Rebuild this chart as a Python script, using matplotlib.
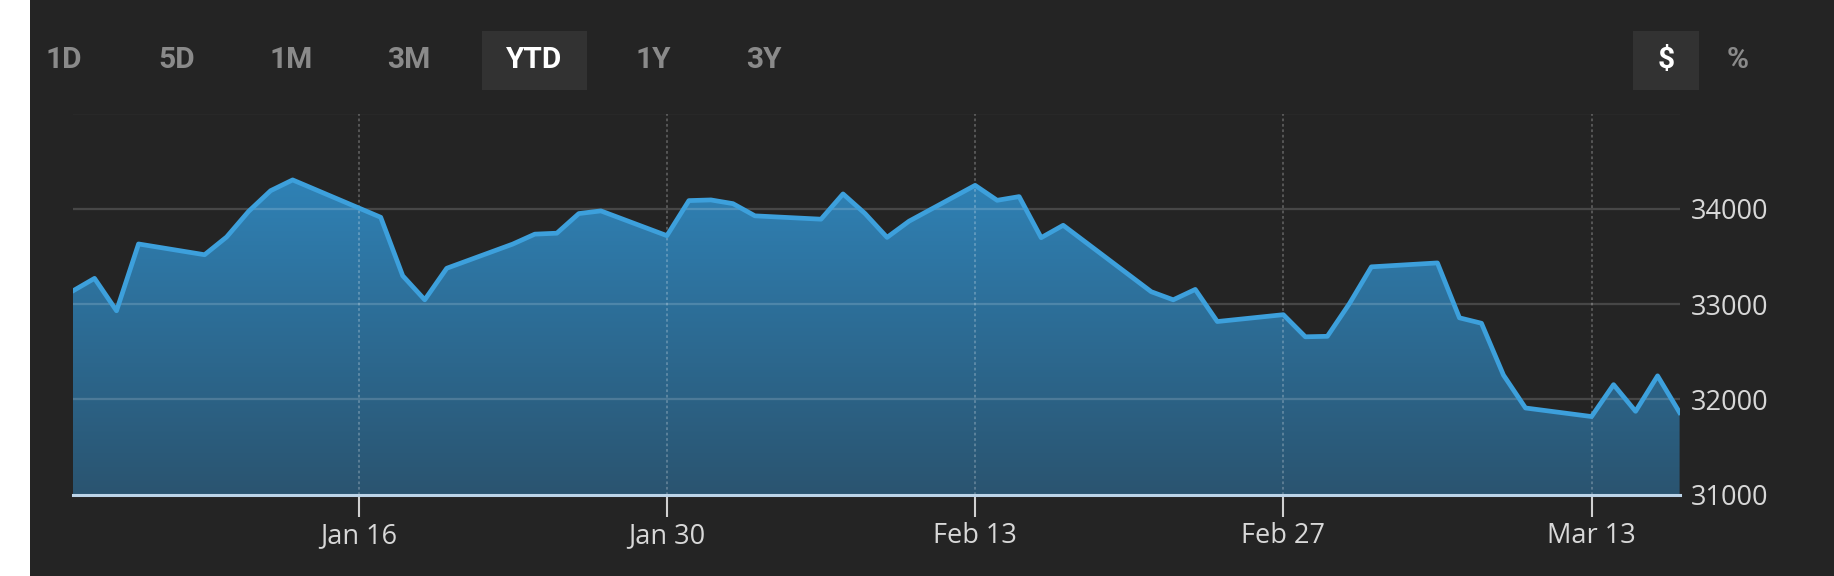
import numpy as np
import matplotlib.pyplot as plt
import matplotlib.dates as mdates
from matplotlib.colors import LinearSegmentedColormap
from matplotlib.patches import Rectangle, Polygon

# YTD closing values
dates = ["2023-01-03", "2023-01-04", "2023-01-05", "2023-01-06", "2023-01-09",
         "2023-01-10", "2023-01-11", "2023-01-12", "2023-01-13", "2023-01-17",
         "2023-01-18", "2023-01-19", "2023-01-20", "2023-01-23", "2023-01-24",
         "2023-01-25", "2023-01-26", "2023-01-27", "2023-01-30", "2023-01-31",
         "2023-02-01", "2023-02-02", "2023-02-03", "2023-02-06", "2023-02-07",
         "2023-02-08", "2023-02-09", "2023-02-10", "2023-02-13", "2023-02-14",
         "2023-02-15", "2023-02-16", "2023-02-17", "2023-02-21", "2023-02-22",
         "2023-02-23", "2023-02-24", "2023-02-27", "2023-02-28", "2023-03-01",
         "2023-03-02", "2023-03-03", "2023-03-06", "2023-03-07", "2023-03-08",
         "2023-03-09", "2023-03-10", "2023-03-13", "2023-03-14", "2023-03-15",
         "2023-03-16", "2023-03-17"]
values = [33136, 33270, 32930, 33631, 33518, 33704, 33973, 34190, 34303, 33911,
          33297, 33045, 33376, 33630, 33734, 33744, 33950, 33978, 33718, 34086,
          34093, 34054, 33926, 33891, 34156, 33950, 33700, 33870, 34246, 34089,
          34128, 33697, 33827, 33130, 33045, 33154, 32817, 32889, 32657, 32662,
          33004, 33391, 33432, 32856, 32799, 32255, 31910, 31820, 32155, 31875,
          32247, 31862]

x_tick_dates = ["2023-01-16", "2023-01-30", "2023-02-13", "2023-02-27", "2023-03-13"]
x_tick_labels = ["Jan 16", "Jan 30", "Feb 13", "Feb 27", "Mar 13"]
y_ticks = [31000, 32000, 33000, 34000]
y_top = 35000

ranges = ["1D", "5D", "1M", "3M", "YTD", "1Y", "3Y"]
active_range = "YTD"
units = ["$", "%"]
active_unit = "$"

BG = "#242424"
W, H = 1834, 576

fig = plt.figure(figsize=(W / 100, H / 100), dpi=100, facecolor=BG)
# white strip on the left edge
fig.add_artist(Rectangle((0, 0), 30 / W, 1, transform=fig.transFigure,
                         facecolor="white", edgecolor="none"))

ax = fig.add_axes([72.5 / W, 1 - 494.7 / H, (1679.6 - 72.5) / W, (494.7 - 113.5) / H])
ax.set_facecolor(BG)

x = mdates.date2num(np.array(dates, dtype="datetime64[D]"))
xt = mdates.date2num(np.array(x_tick_dates, dtype="datetime64[D]"))
y = np.array(values)

# gradient area fill
cmap = LinearSegmentedColormap.from_list("area", ["#2a5470", "#308bc4"])
grad = np.linspace(0, 1, 256).reshape(-1, 1)
im = ax.imshow(grad, cmap=cmap, origin="lower", aspect="auto",
               extent=[x[0], x[-1], y_ticks[0], y_top], zorder=1)
verts = np.column_stack([np.r_[x[0], x, x[-1]], np.r_[y_ticks[0], y, y_ticks[0]]])
area = Polygon(verts, closed=True, facecolor="none", edgecolor="none")
ax.add_patch(area)
im.set_clip_path(area)

# grid
for v in y_ticks[1:] + [y_top]:
    ax.axhline(v, color="white", alpha=0.16, lw=1.6, zorder=2)
for d in xt:
    ax.axvline(d, color="white", alpha=0.25, lw=1.3, ls=(0, (1.5, 1.5)), zorder=2)

ax.plot(x, y, color="#3da0dc", lw=3.4, zorder=3)

ax.set_xlim(x[0], x[-1])
ax.set_ylim(y_ticks[0], y_top)

for s in ["top", "left", "right"]:
    ax.spines[s].set_visible(False)
ax.spines["bottom"].set_color("#bcd4e8")
ax.spines["bottom"].set_linewidth(2.2)
ax.spines["bottom"].set_zorder(4)

ax.set_xticks(xt)
ax.set_xticklabels(x_tick_labels)
ax.tick_params(axis="x", length=16, width=1.5, color="#d0d0d0", pad=4,
               labelsize=19.5, labelcolor="#d8d8d8")
ax.yaxis.tick_right()
ax.set_yticks(y_ticks)
ax.set_yticklabels([str(v) for v in y_ticks])
ax.tick_params(axis="y", length=0, pad=8, labelsize=19.5, labelcolor="#d8d8d8")
for lab in ax.get_xticklabels() + ax.get_yticklabels():
    lab.set_family("Open Sans")

# range / unit selector buttons
range_x = [64, 177, 291, 409, 534, 653, 764]
for lab, bx in zip(ranges, range_x):
    on = lab == active_range
    if on:
        fig.add_artist(Rectangle((482 / W, 1 - 90 / H), 105 / W, 59 / H,
                                 transform=fig.transFigure, facecolor="#323232",
                                 edgecolor="none"))
    fig.text(bx / W, 1 - 60 / H, lab, ha="center", va="center", family="Roboto",
             weight="bold", fontsize=21.5, color="white" if on else "#8a8a8a")

unit_x = [1666, 1738]
for lab, bx in zip(units, unit_x):
    on = lab == active_unit
    if on:
        fig.add_artist(Rectangle((1633 / W, 1 - 90 / H), 66 / W, 59 / H,
                                 transform=fig.transFigure, facecolor="#323232",
                                 edgecolor="none"))
    fig.text(bx / W, 1 - 60 / H, lab, ha="center", va="center", family="Roboto",
             weight="bold", fontsize=21.5, color="white" if on else "#8a8a8a")

fig.savefig("out.png", dpi=100, facecolor=BG)
